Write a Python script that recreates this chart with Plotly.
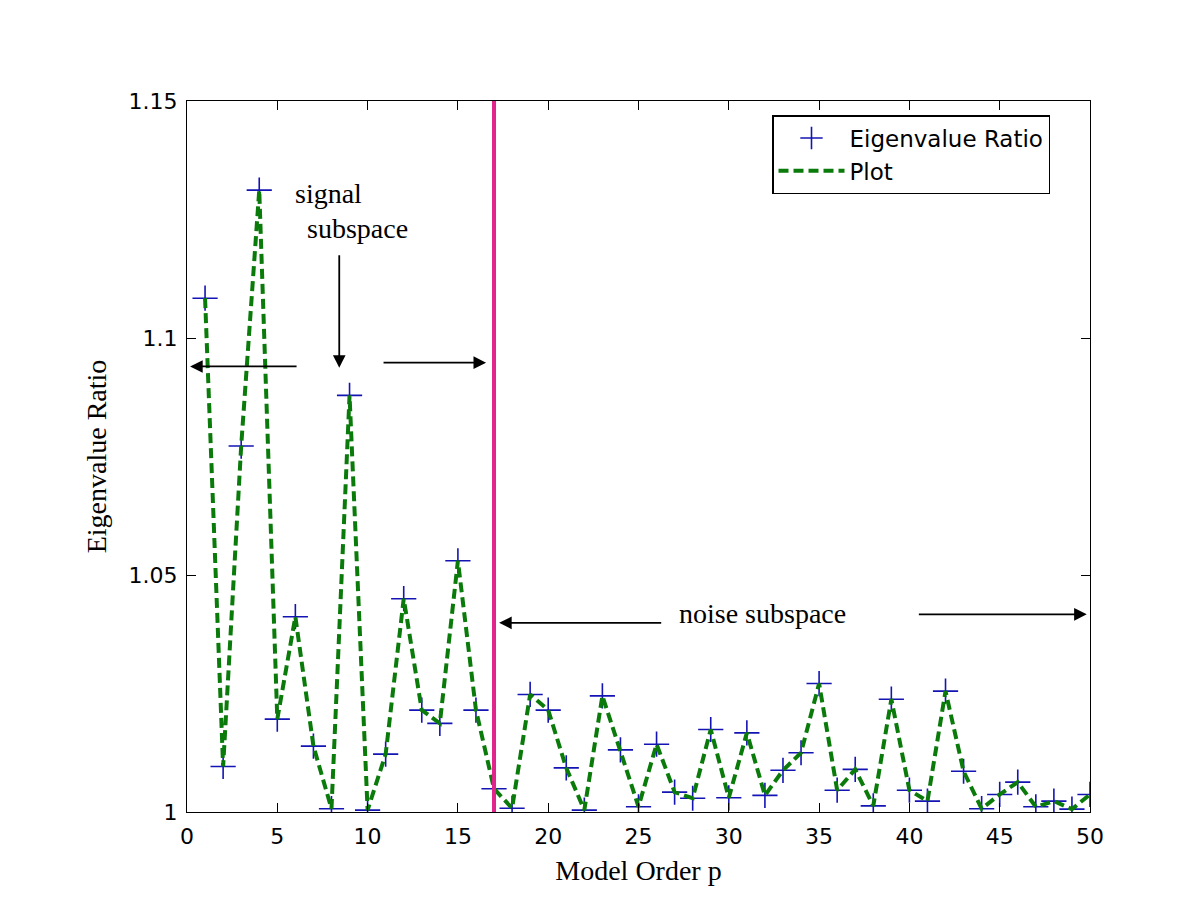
import plotly.graph_objects as go

model_order = list(range(1, 51))
eigen_ratio = [
    1.1084, 1.0096, 1.0772, 1.1312, 1.0196, 1.0412, 1.0139, 1.0007, 1.0879, 1.0004,
    1.0122, 1.0450, 1.0215, 1.0187, 1.0530, 1.0215, 1.0049, 1.0008, 1.0248, 1.0215,
    1.0093, 1.0004, 1.0245, 1.0131, 1.0011, 1.0143, 1.0042, 1.0029, 1.0174, 1.0030,
    1.0167, 1.0035, 1.0088, 1.0125, 1.0271, 1.0046, 1.0090, 1.0013, 1.0238, 1.0046,
    1.0023, 1.0255, 1.0086, 1.0007, 1.0037, 1.0063, 1.0011, 1.0023, 1.0006, 1.0037,
]
x_ticks = [0, 5, 10, 15, 20, 25, 30, 35, 40, 45, 50]
y_ticks = [1.0, 1.05, 1.1, 1.15]
y_tick_labels = ["1", "1.05", "1.1", "1.15"]
divider_order = 17

SERIF = "Liberation Serif, Times New Roman, serif"
SANS = "DejaVu Sans, sans-serif"

fig = go.Figure()
fig.add_trace(go.Scatter(
    x=model_order, y=eigen_ratio, mode="markers", name="Eigenvalue Ratio",
    marker=dict(symbol="cross-thin", size=18, line=dict(color="#1414b4", width=1.6)),
))
fig.add_trace(go.Scatter(
    x=model_order, y=eigen_ratio, mode="lines", name="Plot",
    line=dict(color="#0a7a0a", width=4, dash="10px,5px"),
))

fig.add_shape(type="line", x0=divider_order, x1=divider_order, y0=1.0, y1=1.15,
              xref="x", yref="y", line=dict(color="#e0248c", width=4))

def arrow(x_tail, y_tail, x_head, y_head):
    fig.add_annotation(x=x_head, y=y_head, ax=x_tail, ay=y_tail, xref="x", yref="y",
                       axref="x", ayref="y", text="", showarrow=True, arrowhead=2,
                       arrowsize=1.4, arrowwidth=1.8, arrowcolor="black")

arrow(6.15, 1.094, 0.17, 1.094)
arrow(10.8, 1.0948, 16.56, 1.0948)
arrow(8.43, 1.1178, 8.43, 1.0937)
arrow(26.34, 1.0399, 17.28, 1.0399)
arrow(40.44, 1.0417, 49.82, 1.0417)

def label(x, y, text):
    fig.add_annotation(x=x, y=y, xref="x", yref="y", text=text, showarrow=False,
                       font=dict(family=SERIF, size=28, color="black"))

label(7.81, 1.1304, "signal")
label(9.44, 1.1230, "subspace")
label(31.84, 1.0418, "noise subspace")

axis_common = dict(showline=True, linecolor="black", linewidth=1.2, mirror="ticks",
                   ticks="inside", ticklen=9, tickcolor="black", showgrid=False,
                   zeroline=False, tickfont=dict(family=SANS, size=22, color="black"))

fig.update_xaxes(range=[0, 50], tickvals=x_ticks, ticklabelstandoff=4,
                 title=dict(text="Model Order p", font=dict(family=SERIF, size=28, color="black"), standoff=12),
                 **axis_common)
fig.update_yaxes(range=[1.0, 1.15], tickvals=y_ticks, ticktext=y_tick_labels, ticklabelstandoff=4,
                 title=dict(text="Eigenvalue Ratio", font=dict(family=SERIF, size=28, color="black"), standoff=13),
                 **axis_common)

fig.update_layout(
    width=1200, height=919,
    margin=dict(l=179, r=118, t=93, b=115),
    plot_bgcolor="white", paper_bgcolor="white",
    legend=dict(x=(772 - 187) / 903, y=1 - (115 - 101) / 711, xanchor="left", yanchor="top",
                bordercolor="black", borderwidth=1.5, bgcolor="white",
                font=dict(family=SANS, size=23, color="black"),
                tracegroupgap=0, itemwidth=66),
)

fig.write_html("out.html")
